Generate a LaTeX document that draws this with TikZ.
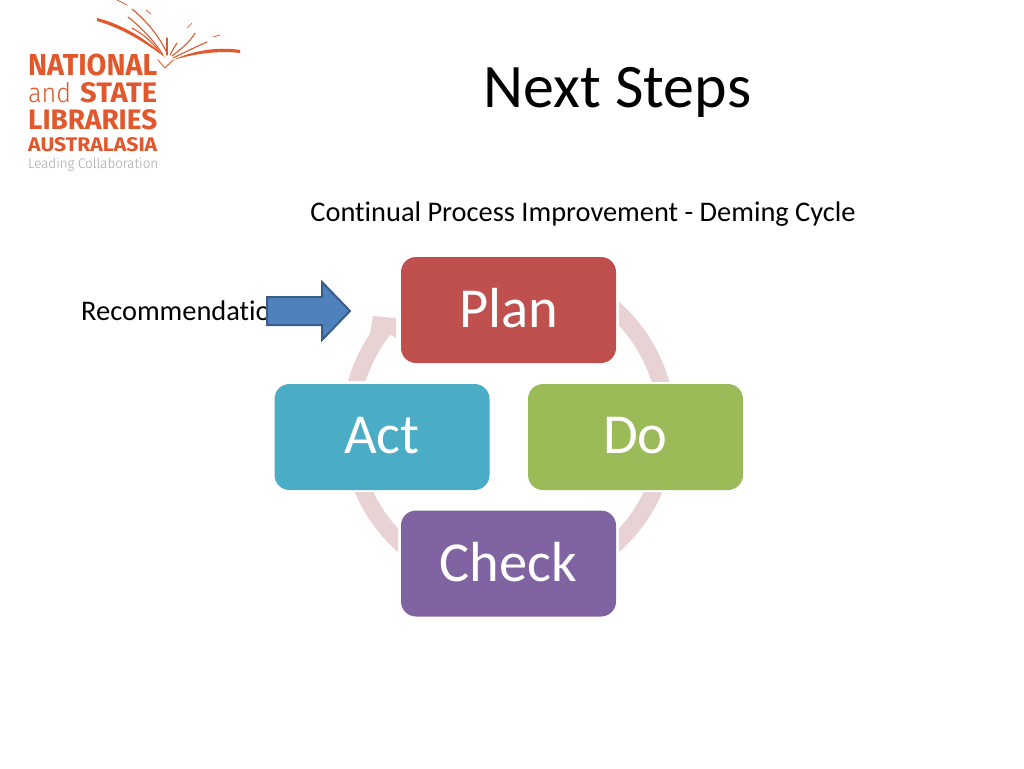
\documentclass[tikz,border=0pt]{standalone}
\usepackage{fontspec}
\usepackage{graphicx}
\setmainfont[Ligatures=NoCommon]{Carlito}
\newfontfamily\logofont{Fira Sans}
\definecolor{planred}{HTML}{C0504D}
\definecolor{actblue}{HTML}{4BACC6}
\definecolor{dogreen}{HTML}{9BBB59}
\definecolor{checkpurple}{HTML}{8064A2}
\definecolor{ringpink}{HTML}{E9D2D4}
\definecolor{logoorange}{HTML}{E2572B}
\definecolor{logogrey}{HTML}{A3A5A8}
\definecolor{arrowfill}{HTML}{4F81BD}
\definecolor{arrowline}{HTML}{385D8A}
\tikzset{
  cyclebox/.style={rounded corners=15pt,minimum width=215pt,minimum height=106pt,inner sep=0pt,text=white,font=\fontsize{56.5}{60}\selectfont},
  ray/.style={draw=logoorange,line cap=round,line width=1.1pt},
  logoline/.style={anchor=base west,inner sep=0pt,text=logoorange},
}
\newcommand{\logotext}[3]{\resizebox{#1pt}{#2pt}{\logofont #3}}
\newcommand{\boxlabel}[1]{\raisebox{3.5pt}{#1}}
\begin{document}
\begin{tikzpicture}[x=1pt,y=-1pt]
\useasboundingbox (0,0) rectangle (1024,768);
\fill[white] (0,0) rectangle (1024,768);
% ring
\begin{scope}
  \clip (619,290) rectangle (700,381);
  \fill[ringpink,even odd rule] (508.5,427) circle[radius=167] (508.5,427) circle[radius=150];
\end{scope}
\begin{scope}
  \clip (619,492) rectangle (700,570);
  \fill[ringpink,even odd rule] (508.5,427) circle[radius=167] (508.5,427) circle[radius=150];
\end{scope}
\begin{scope}
  \clip (398,492) rectangle (320,570);
  \fill[ringpink,even odd rule] (508.5,427) circle[radius=167] (508.5,427) circle[radius=150];
\end{scope}
\fill[ringpink] plot[domain=196:214,samples=20] ({508.5+167*cos(\x)},{427+167*sin(\x)})
  -- (373,316) -- (396,318) -- (396,338)
  -- plot[domain=218:197.8,samples=20] ({508.5+150*cos(\x)},{427+150*sin(\x)}) -- cycle;
% boxes
\node[cyclebox,fill=planred] (plan) at (508.5,310) {\boxlabel{Plan}};
\node[cyclebox,fill=dogreen] (do) at (635.5,437) {\boxlabel{Do}};
\node[cyclebox,fill=checkpurple] (check) at (508.5,563.5) {\boxlabel{Check}};
\node[cyclebox,fill=actblue] (act) at (382,437) {\boxlabel{Act}};
% texts
\node[anchor=base,inner sep=0pt,font=\fontsize{61.9}{66}\selectfont] (title) at (617.5,107) {Next Steps};
\node[anchor=base,inner sep=0pt,font=\fontsize{28.4}{32}\selectfont] (sub) at (583,221) {Continual Process Improvement - Deming Cycle};
\node[anchor=base west,inner sep=0pt,font=\fontsize{28.4}{32}\selectfont] (rec) at (81,320.5) {Recommendatio};
% block arrow
\draw[fill=arrowfill,draw=arrowline,line width=2pt,line join=miter]
  (267,297) -- (322,297) -- (322,282) -- (350,311) -- (322,340) -- (322,325) -- (267,325) -- cycle;
% logo
\node[logoline] (l1) at (28,75.5) {\logotext{129}{21.5}{\bfseries NATIONAL}};
\node[logoline] (l2) at (28,102) {\logotext{43}{20}{\fontspec{Fira Sans Light}and}};
\node[logoline] (l2b) at (80,102) {\logotext{77}{20}{\bfseries STATE}};
\node[logoline] (l3) at (28,129) {\logotext{129}{20}{\bfseries LIBRARIES}};
\node[logoline] (l4) at (28,151) {\logotext{129}{14}{\bfseries AUSTRALASIA}};
\node[logoline,text=logogrey] (l5) at (28,168) {\logotext{130}{10.5}{\fontspec{Fira Sans Light}Leading Collaboration}};
% rays
\fill[logoorange] (97,18) .. controls (125,25) and (150,42) .. (166,58) .. controls (150,46) and (125,29) .. (97,21) -- cycle;
\fill[logoorange] (240,50) .. controls (215,46) and (190,52) .. (173,60) .. controls (190,55) and (215,50) .. (240,53) -- cycle;
\draw[ray] (132,9) .. controls (148,22) and (160,38) .. (167,53);
\draw[ray] (128,17) .. controls (142,28) and (155,42) .. (163,55);
\draw[ray] (132,28) .. controls (145,35) and (155,45) .. (160,53);
\draw[ray] (167,38) -- (167,55);
\draw[ray] (170,55) .. controls (172,51) and (175,46) .. (177,43);
\draw[ray] (172,56) .. controls (180,50) and (190,42) .. (195,33);
\draw[ray] (173,58) .. controls (185,52) and (198,46) .. (207,42);
\draw[ray,line width=.7pt] (117,0) -- (127,5);
\draw[ray,line width=.7pt] (146,10) -- (151,14);
\draw[ray,line width=.7pt] (187,28) -- (192,23);
\draw[ray,line width=.7pt] (213,37) -- (220,35);
\draw[ray,line width=.8pt] (158,60) -- (165,68) -- (173,60);
\end{tikzpicture}
\end{document}
